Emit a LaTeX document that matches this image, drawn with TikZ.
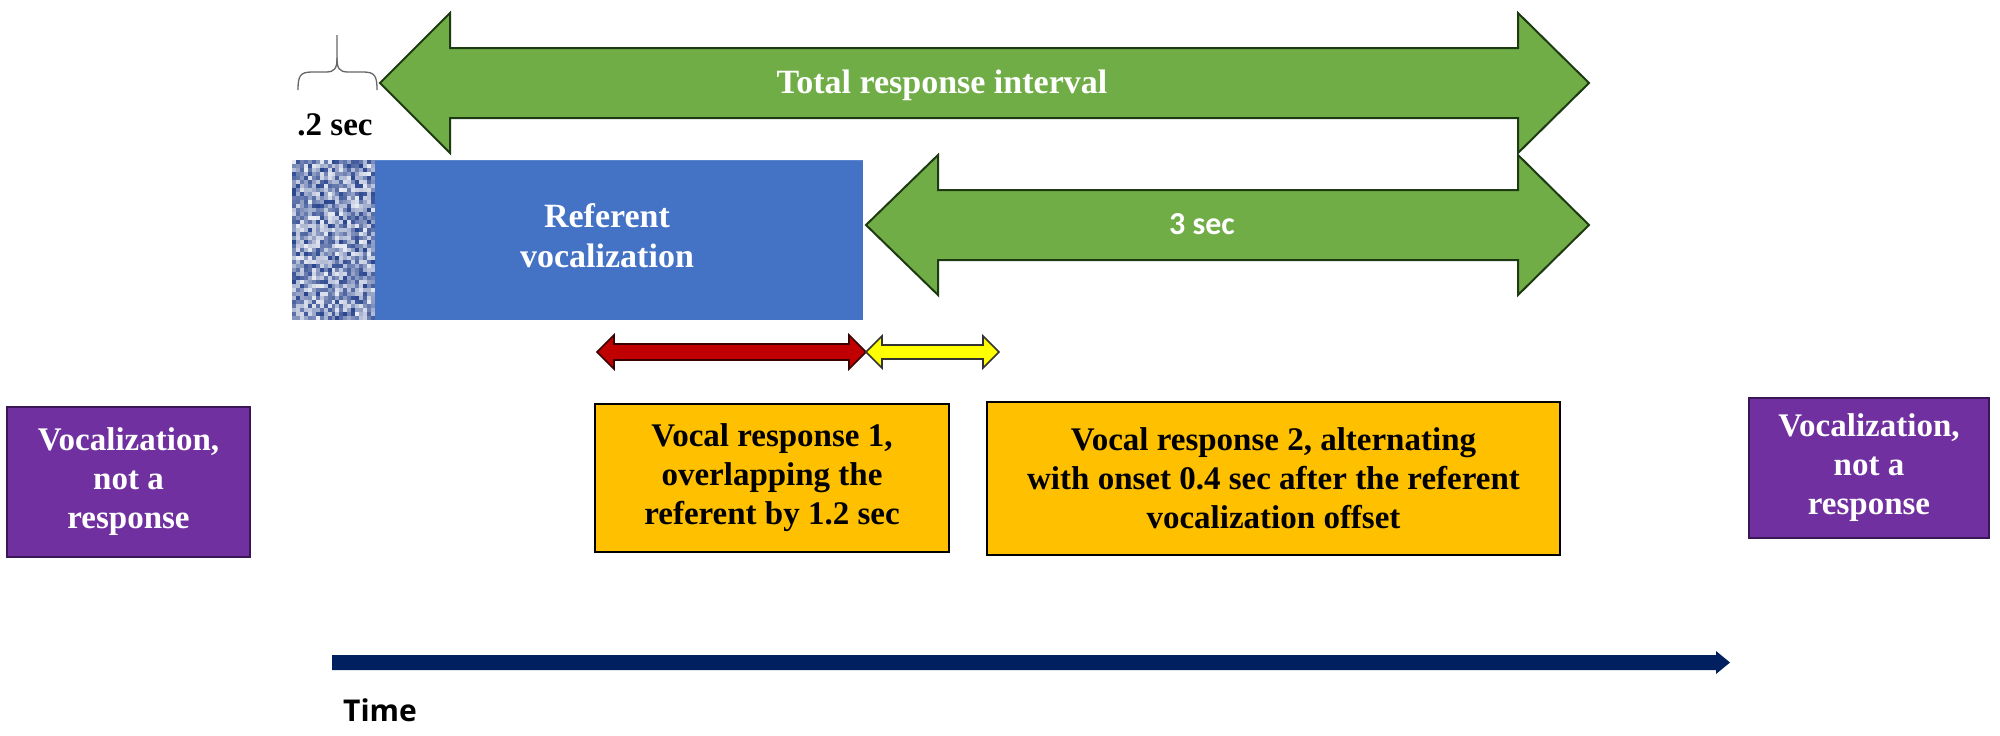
\documentclass[tikz,border=0pt]{standalone}
\usepackage{fontspec}
\setmainfont{Liberation Serif}
\newfontfamily\carl{Carlito}
\newfontfamily\osans{Open Sans}
\usetikzlibrary{calc}
\definecolor{grn}{HTML}{70AD47}
\definecolor{grnline}{HTML}{1E3A12}
\definecolor{blu}{HTML}{4472C4}
\definecolor{bluline}{HTML}{5B85D0}
\definecolor{texdark}{HTML}{1F3C88}
\definecolor{org}{HTML}{FFC000}
\definecolor{pur}{HTML}{7030A0}
\definecolor{purline}{HTML}{3A1656}
\definecolor{axis}{HTML}{002060}
\definecolor{redd}{HTML}{C00000}
\definecolor{redline}{HTML}{3A0000}
\definecolor{yel}{HTML}{FFFF00}
\tikzset{
  bigarrow/.style={fill=grn, draw=grnline, line width=2pt, line join=miter},
  smallarrow/.style={line width=1.6pt, line join=miter},
  boxtext/.style={font=\fontsize{33}{39}\selectfont\bfseries, align=center, inner sep=0pt},
  purplebox/.style={fill=pur, draw=purline, line width=1.5pt, text=white, boxtext},
  orangebox/.style={fill=org, draw=black, line width=2.2pt, text=black, boxtext},
  wlabel/.style={text=white, font=\fontsize{34}{40}\selectfont\bfseries, align=center, inner sep=0pt},
}
\begin{document}
\begin{tikzpicture}[x=1pt, y=-1pt]
\useasboundingbox (0,0) rectangle (2000,736);
\fill[white] (0,0) rectangle (2000,736);

% Total response interval arrow
\path[bigarrow] (380,83) -- (450,13) -- (450,48) -- (1518,48) -- (1518,13) -- (1589,83)
  -- (1518,153) -- (1518,118) -- (450,118) -- (450,153) -- cycle;
\node[wlabel] (total) at (942,85) {Total response interval};

% 3 sec arrow
\path[bigarrow] (866,225) -- (938,155) -- (938,190) -- (1518,190) -- (1518,155) -- (1589,225)
  -- (1518,295) -- (1518,260) -- (938,260) -- (938,295) -- cycle;
\node[text=white, font=\fontsize{32}{38}\selectfont\carl\bfseries, inner sep=0pt] (three) at (1202,224) {3 sec};

% Referent vocalization block
\fill[blu] (375,160) rectangle (863,320);
\draw[bluline, line width=1pt] (375,160) -- (863,160);
\fill[blu!70!white] (292,160) rectangle (375,320);
\pgfmathsetseed{11}
\foreach \i in {0,...,20}{
  \foreach \j in {0,...,39}{
    \pgfmathrandominteger{\r}{10}{95}
    \fill[texdark!\r!white] ({292+\i*3.95},{160+\j*4}) rectangle ++(3.95,4);
  }
}
\node[wlabel] (ref) at (607,236) {Referent\\vocalization};

% brace and .2 sec
\draw[gray!80!black, line width=1.3pt]
  (298,90) .. controls (298,76) and (300,72) .. (312,72) -- (326,72)
  .. controls (335,72) and (337,68) .. (337,58) -- (337,35);
\draw[gray!80!black, line width=1.3pt]
  (377,90) .. controls (377,76) and (375,72) .. (363,72) -- (348,72)
  .. controls (339,72) and (337,68) .. (337,58);
\node[text=black, font=\fontsize{33}{39}\selectfont\bfseries, inner sep=0pt] (twosec) at (335,125) {.2 sec};

% red and yellow arrows
\path[smallarrow, fill=redd, draw=redline] (597,352) -- (614,335) -- (614,344) -- (849,344) -- (849,335) -- (866,352)
  -- (849,369) -- (849,360) -- (614,360) -- (614,369) -- cycle;
\path[smallarrow, fill=yel, draw=black!80] (866,352) -- (882,336) -- (882,345) -- (983,345) -- (983,336) -- (999,352)
  -- (983,368) -- (983,359) -- (882,359) -- (882,368) -- cycle;

% boxes
\node[purplebox, minimum width=243pt, minimum height=150pt] (vleft) at (128.5,482)
  {Vocalization,\\not a\\response};
\node[orangebox, minimum width=354pt, minimum height=148pt] (vr1) at (772,478)
  {Vocal response 1,\\overlapping the\\referent by 1.2 sec};
\node[orangebox, minimum width=573pt, minimum height=153pt] (vr2) at (1273.5,478.5)
  {Vocal response 2, alternating\\with onset 0.4 sec after the referent\\vocalization offset};
\node[purplebox, minimum width=240pt, minimum height=140pt] (vright) at (1869,468)
  {Vocalization,\\not a\\response};

% time axis
\coordinate (tstart) at (332,662.5);
\coordinate (tend) at (1730,662.5);
\fill[axis] (332,655) -- (1716,655) -- (1716,651) -- (1730,662.5) -- (1716,674) -- (1716,670) -- (332,670) -- cycle;
\node[anchor=west, text=black, font=\fontsize{30}{36}\selectfont\osans\bfseries, inner sep=0pt] (time) at (343,710) {Time};
\end{tikzpicture}
\end{document}
